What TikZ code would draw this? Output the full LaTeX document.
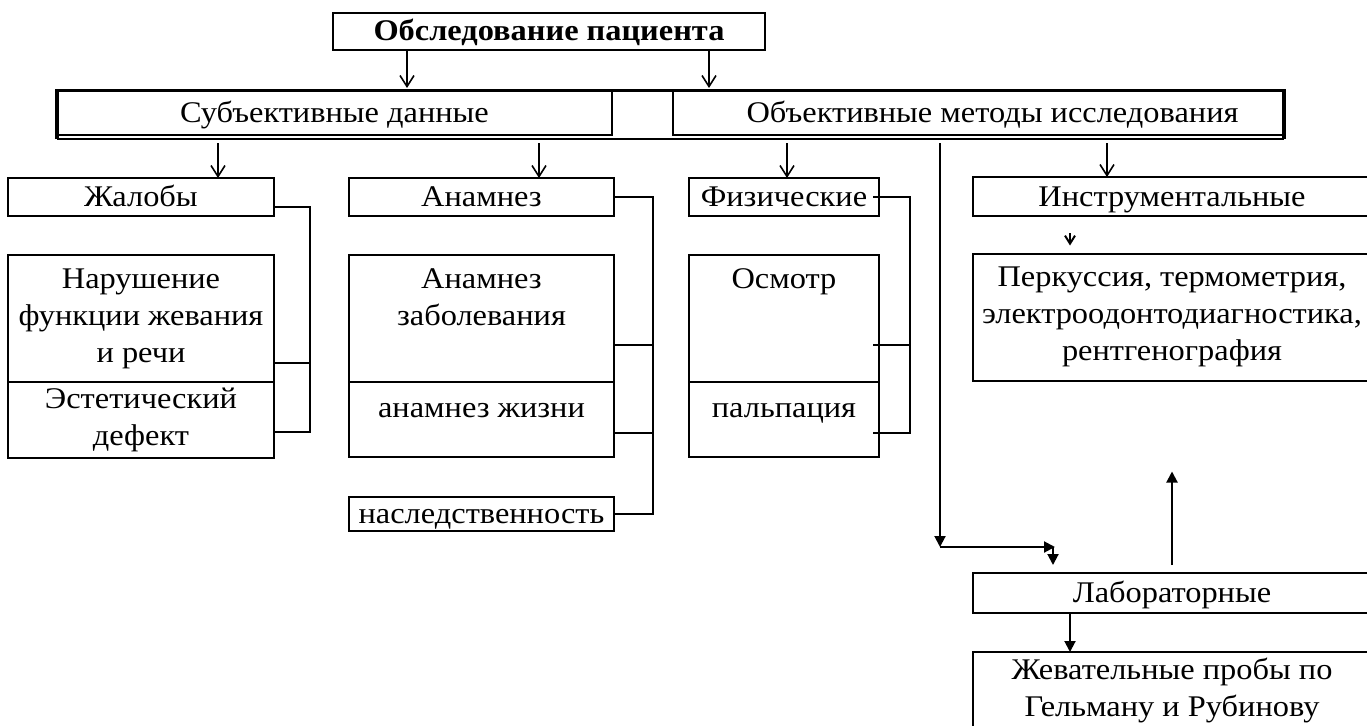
\documentclass[tikz,border=0pt]{standalone}
\usepackage{fontspec}
\setmainfont{Liberation Serif}[FakeStretch=1.08]
\usetikzlibrary{arrows.meta,calc}
\begin{document}
\begin{tikzpicture}[x=1pt,y=-1pt,
  box/.style={draw, line width=2pt, inner sep=0pt, outer sep=0pt, align=center, font=\fontsize{30}{37}\selectfont},
  one/.style={text height=22pt, text depth=3pt},
  txt/.style={inner sep=0pt, align=center, font=\fontsize{30}{37}\selectfont},
  conn/.style={line width=2pt},
  oarr/.style={line width=1.6pt, -{Straight Barb[length=11pt,width=14pt,line width=1.6pt]}},
  sarr/.style={line width=2pt, -{Straight Barb[length=8pt,width=10pt,line width=2pt]}},
  farr/.style={line width=2pt, -{Triangle[length=11pt,width=11pt]}},
]
\useasboundingbox (0,0) rectangle (1367,725);
\clip (0,0) rectangle (1367,725);
\fill[white] (0,0) rectangle (1367,725);

% top
\node[box, one, minimum width=432pt, minimum height=37pt, font=\fontsize{30}{37}\selectfont\bfseries] (title) at (549,31.5) {Обследование пациента};

% second level
\node[box, one, minimum width=555pt, minimum height=45pt] (subj) at (334.5,112.5) {Субъективные данные};
\node[box, one, minimum width=611pt, minimum height=45pt] (obj) at (978.5,112.5) {\hspace*{28pt}Объективные методы исследования};
\draw[line width=3.5pt] (57,139) -- (57,90.5) -- (1284,90.5) -- (1284,139);
\draw[line width=1.5pt] (57,139) -- (1284,139);

% column 1
\node[box, one, minimum width=266pt, minimum height=38pt] (zhal) at (141,197) {Жалобы};
\node[box, minimum width=266pt, minimum height=127pt] (narush) at (141,318.5) {Нарушение\\функции жевания\\и речи};
\node[box, minimum width=266pt, minimum height=76pt] (estet) at (141,420) {Эстетический\\дефект};

% column 2
\node[box, one, minimum width=265pt, minimum height=38pt] (anam) at (481.5,197) {Анамнез};
\node[box, minimum width=265pt, minimum height=127pt] (anamz) at (481.5,318.5) {};
\node[txt] (anamzt) at (481.5,297) {Анамнез\\заболевания};
\node[box, minimum width=265pt, minimum height=75pt] (anamzh) at (481.5,419.5) {};
\node[txt, one] (anamzht) at (481.5,408) {анамнез жизни};
\node[box, one, minimum width=265pt, minimum height=34pt] (nasl) at (481.5,514) {наследственность};

% column 3
\node[box, one, minimum width=190pt, minimum height=38pt] (fiz) at (784,197) {Физические};
\node[box, minimum width=190pt, minimum height=127pt] (osm) at (784,318.5) {};
\node[txt, one] (osmt) at (784,279) {Осмотр};
\node[box, minimum width=190pt, minimum height=75pt] (palp) at (784,419.5) {};
\node[txt, one] (palpt) at (784,408) {пальпация};

% column 4
\node[box, one, minimum width=398pt, minimum height=39pt] (instr) at (1172,196.5) {Инструментальные};
\node[box, minimum width=398pt, minimum height=127pt] (perk) at (1172,317) {Перкуссия, термометрия,\\электроодонтодиагностика,\\рентгенография};
\node[box, one, minimum width=398pt, minimum height=40pt] (lab) at (1172,593) {Лабораторные};
\node[box, minimum width=398pt, minimum height=110pt] (zhev) at (1172,707) {};
\node[txt] (zhevt) at (1172,690) {Жевательные пробы по\\Гельману и Рубинову};

% x positions
\coordinate (xa) at (407,0);
\coordinate (xb) at (709,0);
\coordinate (xc) at (218,0);
\coordinate (xd) at (539,0);
\coordinate (xe) at (787,0);
\coordinate (xf) at (1107,0);
\coordinate (xg) at (1070,0);
\coordinate (xv) at (940,0);
\coordinate (c1) at (940,547);
\coordinate (c2) at (1055,547);
\coordinate (xu) at (1172,0);

% arrows
\draw[oarr] (title.south -| xa) -- ($(subj.north -| xa)+(0,-2)$);
\draw[oarr] (title.south -| xb) -- ($(obj.north -| xb)+(0,-2)$);
\draw[oarr] ($(subj.south -| xc)+(0,8)$) -- (zhal.north -| xc);
\draw[oarr] ($(subj.south -| xd)+(0,8)$) -- (anam.north -| xd);
\draw[oarr] ($(obj.south -| xe)+(0,8)$) -- (fiz.north -| xe);
\draw[oarr] ($(obj.south -| xf)+(0,8)$) -- (instr.north -| xf);
\draw[sarr] ($(instr.south -| xg)+(0,17)$) -- ($(perk.north -| xg)+(0,-8)$);

% brackets
\draw[conn] ($(zhal.east)+(0,10)$) -- ($(zhal.east)+(36,10)$) -- ($(estet.east)+(36,12)$) -- ($(estet.east)+(0,12)$);
\draw[conn] ($(narush.east)+(0,44.5)$) -- ($(narush.east)+(36,44.5)$);
\draw[conn] (anam.east) -- ($(anam.east)+(39,0)$) -- ($(nasl.east)+(39,0)$) -- (nasl.east);
\draw[conn] ($(anamz.east)+(0,26.5)$) -- ($(anamz.east)+(39,26.5)$);
\draw[conn] ($(anamzh.east)+(0,13.5)$) -- ($(anamzh.east)+(39,13.5)$);
\draw[conn] ($(fiz.east)+(-6,0)$) -- ($(fiz.east)+(31,0)$) -- ($(palp.east)+(31,13.5)$) -- ($(palp.east)+(-6,13.5)$);
\draw[conn] ($(osm.east)+(-6,26.5)$) -- ($(osm.east)+(31,26.5)$);

% laboratory path
\draw[farr] ($(obj.south -| xv)+(0,8)$) -- (c1);
\draw[farr] (c1) -- (c2);
\draw[farr] ($(c2)+(-2,0)$) -- ($(lab.north -| c2)+(-2,-8)$);
\draw[farr] ($(lab.north -| xu)+(0,-8)$) -- ($(perk.south -| xu)+(0,91)$);
\draw[farr] (lab.south -| xg) -- (zhev.north -| xg);
\end{tikzpicture}
\end{document}
